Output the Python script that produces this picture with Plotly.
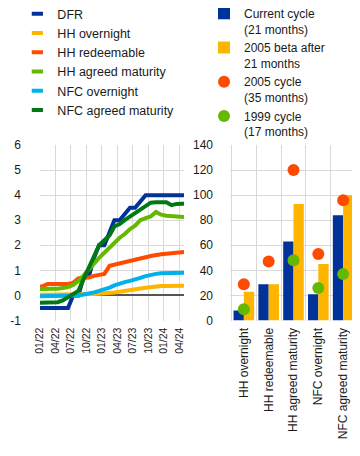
import plotly.graph_objects as go

# ---------------- data: left panel (monthly, % per annum) ----------------
months = ["2021-12", "2022-01", "2022-02", "2022-03", "2022-04", "2022-05", "2022-06",
          "2022-07", "2022-08", "2022-09", "2022-10", "2022-11", "2022-12",
          "2023-01", "2023-02", "2023-03", "2023-04", "2023-05", "2023-06",
          "2023-07", "2023-08", "2023-09", "2023-10", "2023-11", "2023-12",
          "2024-01", "2024-02", "2024-03", "2024-04", "2024-05"]

dfr = [-0.5, -0.5, -0.5, -0.5, -0.5, -0.5, -0.5,
       0.0, 0.0, 0.75, 0.75, 1.5, 2.0,
       2.0, 2.5, 3.0, 3.0, 3.25, 3.5,
       3.5, 3.75, 4.0, 4.0, 4.0, 4.0,
       4.0, 4.0, 4.0, 4.0, 4.0]
hh_overnight = [0.03, 0.03, 0.03, 0.03, 0.03, 0.03, 0.03,
                0.03, 0.03, 0.04, 0.05, 0.06, 0.07,
                0.08, 0.10, 0.12, 0.15, 0.19, 0.22,
                0.25, 0.28, 0.31, 0.34, 0.36, 0.38,
                0.38, 0.39, 0.39, 0.39, 0.39]
hh_redeemable = [0.36, 0.36, 0.46, 0.46, 0.46, 0.46, 0.46,
                 0.50, 0.68, 0.72, 0.72, 0.78, 0.82,
                 0.86, 1.18, 1.22, 1.27, 1.31, 1.36,
                 1.42, 1.47, 1.52, 1.57, 1.62, 1.64,
                 1.66, 1.69, 1.72, 1.74, 1.74]
hh_agreed = [0.26, 0.26, 0.25, 0.26, 0.27, 0.30, 0.33,
             0.42, 0.58, 0.80, 1.05, 1.30, 1.50,
             1.70, 1.92, 2.10, 2.30, 2.45, 2.65,
             2.78, 3.00, 3.08, 3.15, 3.33, 3.22,
             3.18, 3.16, 3.14, 3.12, 3.12]
nfc_overnight = [-0.04, -0.04, -0.04, -0.04, -0.04, -0.04, -0.04,
                 -0.03, 0.00, 0.04, 0.07, 0.12, 0.18,
                 0.24, 0.31, 0.40, 0.48, 0.53, 0.58,
                 0.62, 0.70, 0.77, 0.82, 0.86, 0.88,
                 0.89, 0.90, 0.91, 0.91, 0.91]
nfc_agreed = [-0.30, -0.30, -0.29, -0.28, -0.27, -0.20, -0.08,
              0.05, 0.18, 0.65, 1.10, 1.60, 2.00,
              2.20, 2.40, 2.75, 2.85, 3.00, 3.15,
              3.25, 3.40, 3.55, 3.70, 3.72, 3.72,
              3.72, 3.60, 3.65, 3.66, 3.66]

line_names = ["DFR", "HH overnight", "HH redeemable", "HH agreed maturity",
              "NFC overnight", "NFC agreed maturity"]
line_values = [dfr, hh_overnight, hh_redeemable, hh_agreed, nfc_overnight, nfc_agreed]
line_colors = ["#003299", "#FFB400", "#FF4B00", "#65B800", "#00B1EA", "#007816"]
left_ticks = [-1, 0, 1, 2, 3, 4, 5, 6]

# ---------------- data: right panel (pass-through, %) ----------------
categories = ["HH overnight", "HH redeemable", "HH agreed maturity",
              "NFC overnight", "NFC agreed maturity"]
current_cycle = [8, 29, 63, 21, 84]
beta_2005_21m = [23, 29, 93, 45, 100]
cycle_2005 = [29, 47, 120, 53, 96]
cycle_1999 = [9, None, 48, 26, 37]

FONT = "Arial, Liberation Sans, sans-serif"
TXT = "#1a1a1a"
GRID = "#d9d9d9"

x_dates = [m + "-15" for m in months]

fig = go.Figure()

# lines (left panel)
for name, vals, col in zip(line_names, line_values, line_colors):
    fig.add_trace(go.Scatter(x=x_dates, y=vals, mode="lines", name=name,
                             line=dict(color=col, width=4), showlegend=False,
                             xaxis="x", yaxis="y"))
# legend entries (short thick dashes like the original key)
for name, col in zip(line_names, line_colors):
    fig.add_trace(go.Scatter(x=[None], y=[None], mode="markers", name=name,
                             marker=dict(symbol="line-ew-open", size=8, color=col,
                                         line=dict(width=4, color=col)),
                             legend="legend", xaxis="x", yaxis="y"))

# bars + dots (right panel)
fig.add_trace(go.Bar(x=categories, y=current_cycle, name="Current cycle<br>(21 months)",
                     marker=dict(color="#003299", line=dict(width=0)),
                     xaxis="x2", yaxis="y2", legend="legend2"))
fig.add_trace(go.Bar(x=categories, y=beta_2005_21m, name="2005 beta after<br>21 months",
                     marker=dict(color="#FFB400", line=dict(width=0)),
                     xaxis="x2", yaxis="y2", legend="legend2"))
fig.add_trace(go.Scatter(x=categories, y=cycle_2005, mode="markers",
                         name="2005 cycle<br>(35 months)",
                         marker=dict(color="#FF4B00", size=12),
                         xaxis="x2", yaxis="y2", legend="legend2"))
fig.add_trace(go.Scatter(x=categories, y=cycle_1999, mode="markers",
                         name="1999 cycle<br>(17 months)",
                         marker=dict(color="#65B800", size=12),
                         xaxis="x2", yaxis="y2", legend="legend2"))

W, H = 360, 456
ydom = [(H - 312.5) / H, (H - 137) / H]

fig.update_layout(
    width=W, height=H,
    margin=dict(l=0, r=0, t=0, b=0, autoexpand=False),
    paper_bgcolor="white", plot_bgcolor="white",
    font=dict(family=FONT, size=12, color=TXT),
    barmode="group", bargap=0.17, bargroupgap=0,
    xaxis=dict(domain=[32 / W, 176 / W], type="date",
               range=["2022-01-01", "2024-04-28"],
               tick0="2022-01-01", dtick="M3", tickformat="%m/%y",
               tickangle=-90, tickfont=dict(size=10.5),
               showgrid=True, gridcolor=GRID, gridwidth=1,
               ticks="", showline=False, zeroline=False,
               ticklabelstandoff=4, automargin=False),
    yaxis=dict(domain=ydom, range=[-1, 6],
               tickvals=left_ticks, ticktext=[str(v) for v in left_ticks],
               showgrid=True, gridcolor=GRID, gridwidth=1,
               zeroline=True, zerolinecolor="#555555", zerolinewidth=2,
               ticks="", showline=False, ticklabelstandoff=18, automargin=False),
    xaxis2=dict(domain=[222 / W, 349 / W], anchor="y2", type="category",
                tickson="boundaries", showgrid=True, gridcolor=GRID, gridwidth=1,
                tickangle=-90, ticks="", showline=False, ticklabelstandoff=4,
                automargin=False),
    yaxis2=dict(domain=ydom, anchor="x2", range=[0, 140], dtick=20,
                showgrid=True, gridcolor=GRID, gridwidth=1,
                zeroline=False, ticks="", showline=False, ticklabelstandoff=16,
                automargin=False),
    legend=dict(x=0.026, y=1 + 9 / H, xanchor="left", yanchor="top",
                font=dict(size=12.5, color=TXT), bgcolor="rgba(0,0,0,0)",
                borderwidth=0, tracegroupgap=0),
    legend2=dict(x=0.5445, y=1 + 9 / H, xanchor="left", yanchor="top", valign="top",
                 font=dict(size=12, color=TXT), bgcolor="rgba(0,0,0,0)",
                 borderwidth=0, tracegroupgap=0),
)

fig.write_html("out.html")
